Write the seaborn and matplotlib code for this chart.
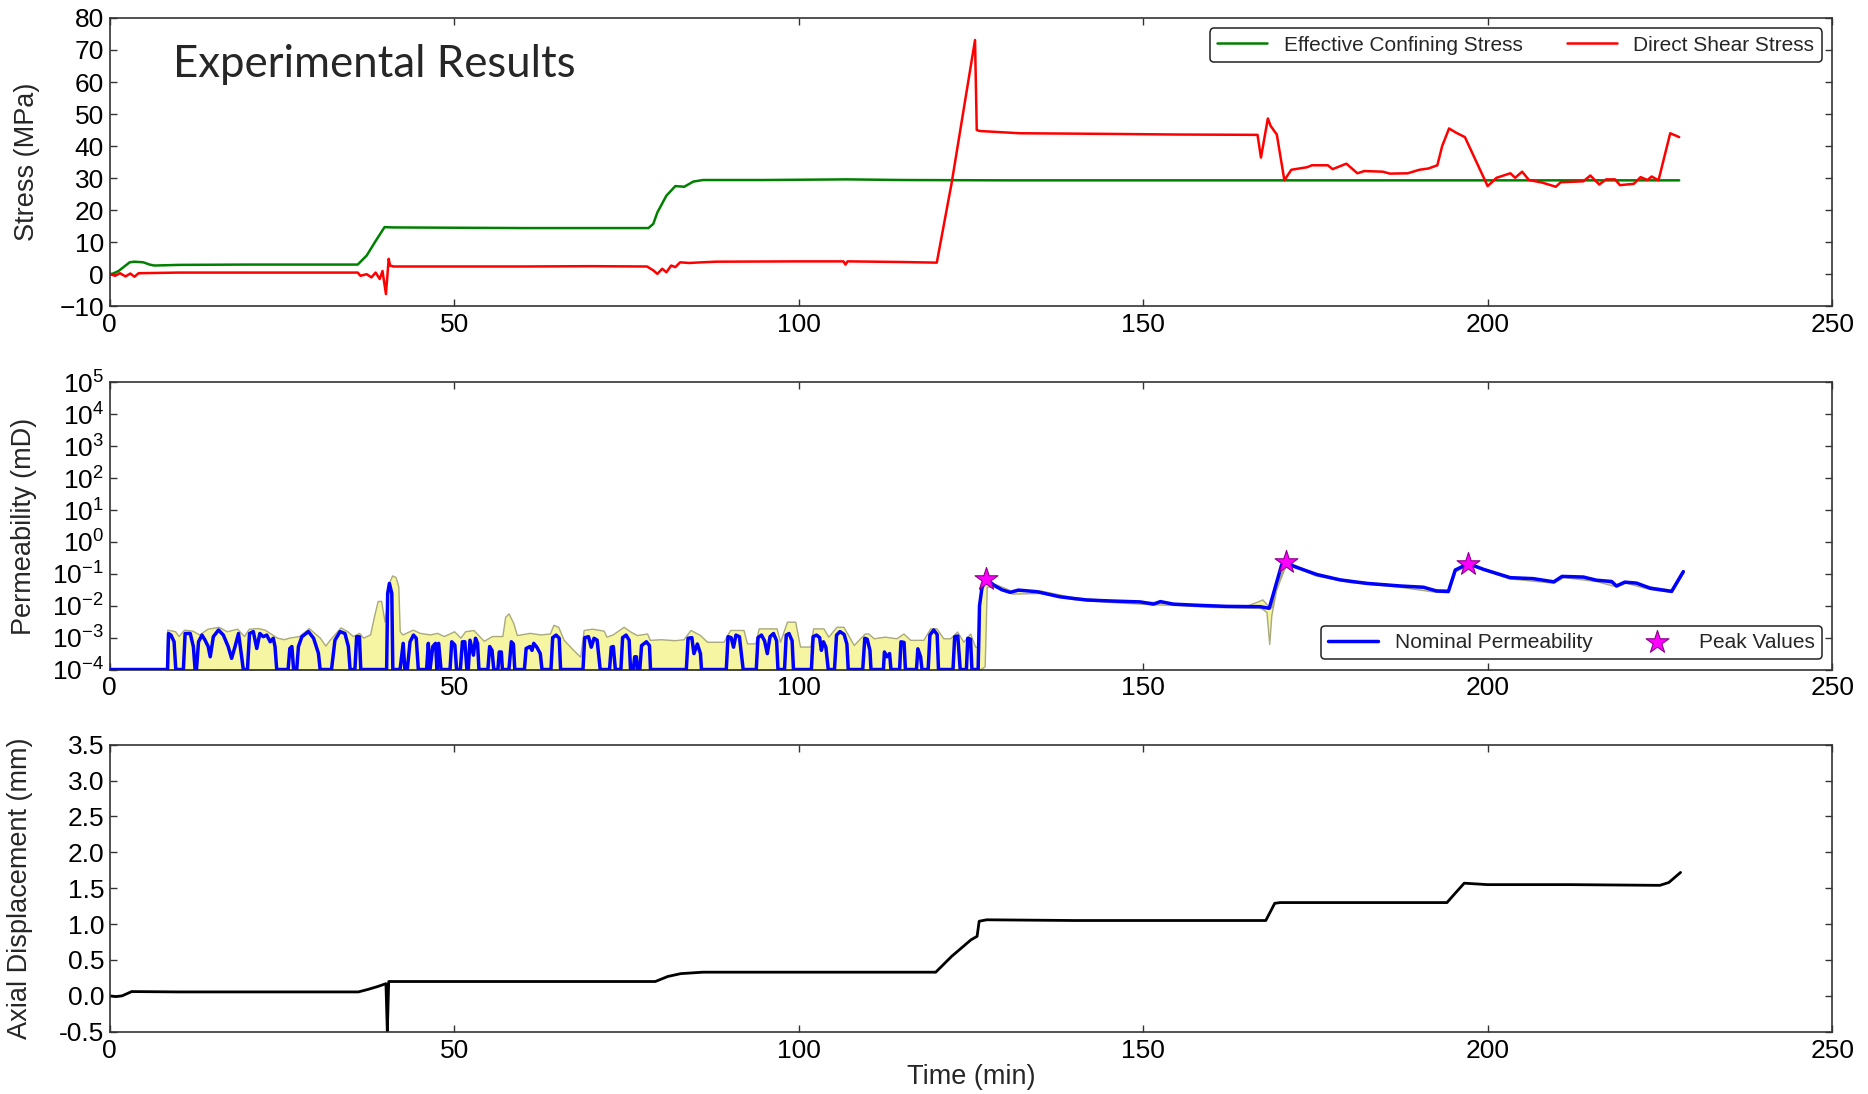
import numpy as np
import matplotlib
matplotlib.use("Agg")
import matplotlib.pyplot as plt
import seaborn as sns
from matplotlib.ticker import MultipleLocator, LogLocator, LogFormatterMathtext, NullLocator

# ---------------- stress record (MPa) ----------------
confining_time = [0, 0.5, 1.3, 2.9, 3.6, 4.9, 5.8, 6.5, 10, 20, 30, 36.0, 37.3, 38.5, 39.9,
                  41, 50, 60, 70, 78.2, 78.9, 79.5, 80.8, 82.1, 83.4, 84.7, 86.1, 95, 107,
                  115, 130, 150, 170, 190, 210, 227.8]
confining_stress = [0, 0.2, 1.0, 3.7, 3.9, 3.7, 3.0, 2.7, 2.9, 3.0, 3.0, 3.0, 5.8, 10, 14.7,
                    14.6, 14.5, 14.4, 14.4, 14.4, 15.7, 19.3, 24.5, 27.5, 27.3, 28.9, 29.4, 29.4,
                    29.6, 29.4, 29.3, 29.3, 29.3, 29.3, 29.3, 29.3]

shear_time = [0, 0.8, 1.5, 2.3, 3.0, 3.6, 4.2, 10, 20, 30, 36.0, 36.4, 37.3, 38.0, 38.6, 39.2,
              39.6, 40.1, 40.5, 40.7, 41.2, 50, 60, 70, 78.0, 78.9, 79.5, 80.2, 80.8, 81.5,
              82.1, 82.8, 84.1, 85.9, 88, 100, 106.5, 106.8, 107.1, 115, 120.05, 122.2, 125.6,
              125.85, 126.3, 132.1, 145, 155, 166.6, 167.1, 168.1, 168.5, 169.4, 170.5, 171.5,
              173.8, 174.5, 176.8, 177.5, 179.5, 181.1, 182.1, 184.8, 185.8, 188.4, 190.1,
              191.4, 192.7, 193.4, 194.4, 195.4, 196.7, 200.0, 201.3, 203.3, 204.0, 205.0,
              206.0, 207.9, 209.9, 210.6, 213.9, 214.9, 216.2, 217.2, 218.5, 219.2, 221.2,
              222.2, 223.2, 223.8, 224.8, 226.5, 227.8]
shear_stress = [0, -0.5, 0.3, -0.7, 0.2, -0.8, 0.3, 0.5, 0.5, 0.5, 0.5, -0.5, 0, -1.0, 0.5, -1.5,
                1.0, -6.2, 4.8, 2.7, 2.4, 2.4, 2.4, 2.5, 2.4, 1.2, 0.1, 1.7, 0.6, 2.7,
                2.2, 3.7, 3.5, 3.7, 3.9, 4.0, 4.0, 3.0, 4.0, 3.8, 3.6, 28.4, 73.1,
                45.0, 44.7, 44.0, 43.8, 43.6, 43.5, 36.4, 48.6, 46.3, 43.6, 29.3, 32.6,
                33.4, 34.0, 34.0, 32.8, 34.5, 31.5, 32.2, 32.0, 31.4, 31.5, 32.6,
                33.0, 34.0, 40.0, 45.5, 44.2, 42.8, 27.5, 30.1, 31.5, 30.1, 32.0,
                29.4, 28.6, 27.3, 28.7, 29.0, 30.8, 28.0, 29.6, 29.6, 27.8, 28.2,
                30.3, 29.4, 30.5, 29.3, 44.0, 42.8]

# ---------------- permeability record: (time min, log10 k [mD]) ----------------
perm_points = [
    (0, -4), (8.4, -4),
    (8.55, -2.87), (8.9, -2.92), (9.35, -3.13), (9.6, -4),
    (10.7, -4), (10.95, -2.87), (11.7, -2.87), (12.15, -3.28), (12.4, -4),
    (12.6, -4), (12.9, -3.13), (13.4, -2.92), (13.85, -3.08), (14.3, -3.28), (14.6, -3.6),
    (15.05, -2.97), (15.8, -2.76), (16.5, -2.92), (17.2, -3.28), (17.7, -3.65), (18.2, -3.28),
    (18.7, -2.87), (18.9, -3.18), (19.4, -4),
    (20.0, -4), (20.3, -2.87), (20.85, -2.81), (21.35, -3.34), (21.8, -2.87), (22.3, -2.97),
    (22.8, -2.92), (23.3, -3.13), (23.75, -3.02), (24.0, -3.28), (24.25, -4),
    (25.9, -4), (26.15, -3.34), (26.45, -3.28), (26.7, -4),
    (27.15, -4), (27.4, -3.28), (27.9, -2.97), (28.85, -2.81), (29.6, -3.02), (30.3, -3.49), (30.55, -4),
    (32.2, -4), (32.7, -3.08), (33.45, -2.81), (34.15, -2.87), (34.65, -3.28), (34.9, -4),
    (35.6, -4), (35.85, -2.97), (36.25, -2.97), (36.45, -4),
    (40.2, -4), (40.35, -1.61), (40.6, -1.30), (40.95, -1.61), (41.1, -4),
    (42.15, -4), (42.6, -3.18), (42.85, -4),
    (43.2, -4), (43.6, -3.13), (44.1, -2.92), (44.5, -3.02), (44.8, -4),
    (46.0, -4), (46.25, -3.18), (46.5, -4), (46.9, -3.28), (47.3, -3.18), (47.5, -4),
    (47.75, -3.18), (48.1, -4),
    (49.4, -4), (49.65, -3.13), (50.1, -3.23), (50.35, -4),
    (50.9, -4), (51.2, -3.13), (51.55, -3.13), (51.85, -4),
    (52.05, -4), (52.3, -3.08), (52.8, -3.55), (53.1, -3.02), (53.4, -3.18), (53.6, -4),
    (54.9, -4), (55.15, -3.28), (55.5, -3.4), (55.75, -4),
    (56.35, -4), (56.55, -3.45), (56.85, -3.45), (57.0, -4),
    (57.95, -4), (58.3, -3.13), (58.6, -3.2), (58.8, -4),
    (60.2, -4), (60.45, -3.34), (61.0, -3.28), (61.3, -3.4), (61.55, -3.18), (62.0, -3.3),
    (62.5, -3.5), (62.75, -4),
    (64.05, -4), (64.3, -3.0), (64.8, -2.92), (65.25, -3.02), (65.45, -4),
    (68.7, -4), (68.95, -3.0), (69.5, -2.97), (69.9, -3.3), (70.3, -3.02), (70.75, -3.08), (71.2, -4),
    (72.55, -4), (72.8, -3.3), (73.1, -3.28), (73.4, -4),
    (74.2, -4), (74.45, -3.0), (74.95, -2.92), (75.4, -3.08), (75.6, -4),
    (76.0, -4), (76.2, -3.6), (76.45, -3.6), (76.6, -4),
    (76.95, -4), (77.2, -3.25), (77.9, -3.13), (78.35, -3.25), (78.5, -4),
    (83.7, -4), (83.95, -3.02), (84.5, -3.0), (84.8, -3.5), (85.3, -3.2), (85.75, -3.5), (85.9, -4),
    (89.5, -4), (89.75, -2.97), (90.2, -3.0), (90.55, -3.3), (90.9, -2.92), (91.4, -2.97), (91.95, -4),
    (93.85, -4), (94.1, -3.0), (94.6, -2.92), (95.05, -3.1), (95.45, -3.5), (95.85, -2.97),
    (96.35, -2.87), (96.8, -3.1), (97.0, -4),
    (97.95, -4), (98.2, -2.92), (98.6, -2.87), (99.05, -3.1), (99.25, -4),
    (101.85, -4), (102.1, -2.97), (102.6, -2.92), (103.05, -3.0), (103.3, -3.4), (103.6, -3.13),
    (103.95, -3.3), (104.3, -4),
    (105.2, -4), (105.5, -2.92), (106.0, -2.81), (106.6, -2.9), (107.0, -3.2), (107.2, -4),
    (109.3, -4), (109.6, -3.02), (109.95, -3.05), (110.35, -3.4), (110.5, -4),
    (112.3, -4), (112.45, -3.45), (112.8, -3.6), (113.2, -3.5), (113.4, -4),
    (114.65, -4), (114.85, -3.13), (115.3, -3.15), (115.5, -4),
    (117.1, -4), (117.3, -3.35), (117.7, -3.6), (117.9, -4),
    (118.8, -4), (119.05, -2.92), (119.6, -2.76), (120.1, -2.9), (120.3, -4),
    (122.4, -4), (122.65, -2.97), (123.1, -2.95), (123.45, -4),
    (124.35, -4), (124.55, -3.02), (124.95, -3.05), (125.15, -4),
    (126.05, -4), (126.25, -2.0), (126.6, -1.45), (127.2, -1.16),
    (128.3, -1.35), (129.5, -1.5), (130.7, -1.58), (131.9, -1.51), (134.6, -1.56), (137.9, -1.72),
    (141.8, -1.82), (145.2, -1.85), (149.6, -1.88), (151.5, -1.95), (152.5, -1.87), (154.4, -1.95),
    (157.3, -1.98), (162.1, -2.02), (167.0, -2.03), (168.3, -2.08), (170.1, -0.72), (170.8, -0.63),
    (171.8, -0.76), (175.2, -1.02), (178.6, -1.19), (182.5, -1.30), (187.3, -1.38), (190.7, -1.42),
    (192.6, -1.54), (194.3, -1.55), (195.3, -0.88), (197.2, -0.68), (199.4, -0.86), (203.3, -1.12),
    (206.6, -1.15), (209.6, -1.25), (210.8, -1.08), (213.9, -1.10), (215.8, -1.20), (218.0, -1.24),
    (218.7, -1.38), (219.9, -1.26), (221.6, -1.29), (223.6, -1.45), (226.7, -1.55), (228.4, -0.93),
]

# upper edge of the measurement band during the low-flow stage (lower edge = 1e-4)
band_low_stage = [
    (8.2, -4), (8.35, -2.75), (9.5, -2.8), (10.0, -2.95), (10.8, -2.75), (12.0, -2.78),
    (13.0, -2.9), (14.2, -2.72), (15.8, -2.66), (17.0, -2.8), (18.5, -2.72), (19.5, -2.95),
    (20.2, -2.72), (21.5, -2.7), (22.5, -2.75), (24.3, -3.0), (25.3, -3.05), (26.0, -3.0),
    (27.5, -2.95), (28.9, -2.7), (30.5, -3.0), (31.3, -3.25), (32.0, -3.05), (33.5, -2.68),
    (34.5, -2.8), (35.3, -2.95), (36.2, -2.85), (36.8, -3.0), (37.8, -2.9), (38.4, -2.3),
    (38.9, -1.85), (39.4, -1.85), (39.9, -2.5), (40.2, -2.0), (40.6, -1.25), (41.0, -1.05),
    (41.5, -1.1), (41.9, -1.4), (42.1, -2.8), (42.5, -2.9), (44.0, -2.75), (45.0, -2.85),
    (46.5, -2.9), (47.5, -2.85), (48.5, -2.95), (50.0, -2.8), (50.9, -3.0), (51.6, -2.8),
    (52.8, -2.76), (54.3, -3.1), (55.5, -2.95), (57.0, -2.95), (57.4, -2.35), (57.9, -2.24),
    (58.6, -2.55), (59.1, -2.92), (61.0, -2.85), (62.5, -2.9), (63.9, -2.87), (64.4, -2.6),
    (65.1, -2.66), (65.9, -3.07), (67.3, -3.39), (68.3, -3.6), (68.8, -2.76), (70.0, -2.72),
    (71.7, -2.78), (72.1, -2.97), (73.0, -2.9), (74.6, -2.66), (75.5, -2.8), (76.5, -2.92),
    (78.0, -2.87), (78.4, -3.07), (80.0, -3.05), (82.0, -3.08), (83.3, -3.05), (84.3, -2.76),
    (85.7, -2.92), (86.7, -3.13), (89.1, -3.13), (90.05, -2.76), (92.0, -2.76), (92.5, -3.18),
    (93.7, -3.18), (94.2, -2.71), (96.8, -2.71), (97.3, -3.13), (98.3, -2.5), (99.5, -2.5),
    (100.2, -3.28), (101.7, -3.28), (102.1, -2.71), (103.6, -2.71), (104.3, -2.97),
    (105.5, -2.66), (106.5, -2.66), (108.0, -3.23), (109.6, -2.87), (110.1, -2.87),
    (110.9, -3.02), (112.5, -2.97), (114.2, -3.02), (115.2, -2.87), (116.2, -3.07),
    (118.1, -3.07), (119.1, -2.71), (120.0, -2.71), (121.0, -3.02), (122.0, -3.02),
    (123.0, -2.81), (123.9, -3.13), (124.9, -2.87), (125.6, -3.28), (125.9, -3.3), (126.0, -4),
]

# measurement band after breakthrough: (time, lower log10, upper log10)
band_flow_stage = [
    (126.1, -4, -4), (126.3, -4, -1.7), (127.0, -3.9, -1.2), (127.3, -1.4, -1.12),
    (128.3, -1.4, -1.3), (131.0, -1.62, -1.54), (135.0, -1.6, -1.52), (140.0, -1.8, -1.74),
    (145.0, -1.88, -1.82), (150.0, -1.94, -1.86), (155.0, -1.98, -1.93), (160.0, -2.04, -1.98),
    (165.0, -2.06, -2.0), (166.8, -2.06, -1.85), (167.3, -2.1, -1.8), (167.9, -2.2, -1.95),
    (168.3, -3.2, -2.05), (168.6, -2.3, -2.05), (169.3, -1.5, -1.35), (170.8, -0.66, -0.6),
    (175.0, -1.05, -1.0), (180.0, -1.26, -1.21), (187.0, -1.4, -1.35), (192.0, -1.55, -1.47),
    (194.3, -1.58, -1.5), (195.3, -0.92, -0.85), (197.2, -0.71, -0.66), (203.0, -1.14, -1.09),
    (209.6, -1.28, -1.22), (211.0, -1.1, -1.06), (215.8, -1.23, -1.17), (218.7, -1.4, -1.33),
    (220.0, -1.28, -1.22), (223.6, -1.48, -1.4), (226.7, -1.57, -1.5), (228.4, -0.96, -0.9),
]

peak_time = [127.2, 170.8, 197.2]
peak_log10 = [-1.16, -0.63, -0.68]

# ---------------- axial displacement (mm) ----------------
disp_time = [0, 0.9, 1.8, 3.2, 10, 20, 30, 36.1, 37.5, 38.9, 40.1, 40.3, 40.5, 50, 60, 70,
             79.2, 81.0, 82.9, 86.1, 95, 105, 115, 119.9, 122.2, 125.0, 125.9, 126.2, 127.3,
             140, 155, 167.8, 169.1, 169.9, 180, 194.1, 195.2, 196.6, 198.3, 200, 212, 225,
             226.3, 228.0]
disp_mm = [0.0, -0.01, 0.0, 0.06, 0.055, 0.055, 0.055, 0.055, 0.09, 0.13, 0.17, -0.5, 0.2,
           0.2, 0.2, 0.2, 0.2, 0.27, 0.31, 0.33, 0.33, 0.33, 0.33, 0.33, 0.55, 0.78, 0.83,
           1.04, 1.06, 1.05, 1.05, 1.05, 1.29, 1.30, 1.30, 1.30, 1.42, 1.57, 1.56, 1.55,
           1.55, 1.54, 1.58, 1.72]

time_ticks = [0, 50, 100, 150, 200, 250]

# ---------------- style ----------------
sns.set_style("ticks")
plt.rcParams.update({
    "font.family": ["Liberation Sans", "DejaVu Sans"],
    "mathtext.fontset": "custom",
    "mathtext.rm": "Liberation Sans",
    "mathtext.it": "Liberation Sans:italic",
    "mathtext.bf": "Liberation Sans:bold",
    "axes.edgecolor": "#333333",
    "axes.linewidth": 1.2,
    "axes.unicode_minus": True,
    "xtick.direction": "in",
    "ytick.direction": "in",
    "xtick.top": True,
    "ytick.right": True,
    "xtick.color": "#333333",
    "ytick.color": "#333333",
    "xtick.labelcolor": "black",
    "ytick.labelcolor": "black",
})

TICK_FS = 19
LABEL_FS = 19.5
LEG_FS = 15

fig = plt.figure(figsize=(18.68, 10.94), dpi=100)
ax1 = fig.add_axes([0.0587, 0.7201, 0.9221, 0.2635])
ax2 = fig.add_axes([0.0587, 0.3880, 0.9221, 0.2624])
ax3 = fig.add_axes([0.0587, 0.0569, 0.9221, 0.2624])


def style_axis(ax):
    ax.set_xlim(0, 250)
    ax.set_xticks(time_ticks)
    ax.tick_params(axis="both", which="major", length=5, width=1, labelsize=TICK_FS)
    ax.tick_params(axis="x", pad=5)
    ax.tick_params(axis="y", pad=4)
    for s in ax.spines.values():
        s.set_visible(True)
        s.set_color("#333333")
        s.set_linewidth(1.2)


# ---- stress panel ----
sns.lineplot(x=confining_time, y=confining_stress, ax=ax1, color="#008000", lw=1.8,
             estimator=None, sort=False, label="Effective Confining Stress")
sns.lineplot(x=shear_time, y=shear_stress, ax=ax1, color="#ff0000", lw=1.8,
             estimator=None, sort=False, label="Direct Shear Stress")
style_axis(ax1)
ax1.set_ylim(-10, 80)
ax1.yaxis.set_major_locator(MultipleLocator(10))
ax1.set_ylabel("Stress (MPa)", fontsize=LABEL_FS, va="center")
ax1.yaxis.set_label_coords(-0.048, 0.5)
ax1.set_xlabel("")
h, l = ax1.get_legend_handles_labels()
leg1 = ax1.legend(h, l, loc="upper right", ncol=2, fontsize=LEG_FS, frameon=True,
                  fancybox=True, framealpha=1, edgecolor="#222222", columnspacing=2.1,
                  handlelength=2.4, borderaxespad=0.5, handletextpad=0.8,
                  borderpad=0.35)
leg1.get_frame().set_linewidth(1.1)
ax1.text(0.0368, 0.795, "Experimental Results", transform=ax1.transAxes,
         fontsize=31.5, family=["Lato", "DejaVu Sans"], ha="left", va="baseline")

# ---- permeability panel ----
floor = 1e-4
bt, bu = zip(*band_low_stage)
ax2.fill_between(bt, floor, 10 ** np.array(bu), facecolor="#f6f6a2",
                 edgecolor="#a9a97c", lw=1.0, zorder=1)
ft, flo, fhi = zip(*band_flow_stage)
ax2.fill_between(ft, 10 ** np.array(flo), 10 ** np.array(fhi), facecolor="#f6f6a2",
                 edgecolor="#a9a97c", lw=1.0, zorder=1)
pt, plog = zip(*perm_points)
sns.lineplot(x=list(pt), y=list(10 ** np.array(plog)), ax=ax2, color="#0000ff", lw=2.5,
             estimator=None, sort=False, label="Nominal Permeability", zorder=3)
sns.scatterplot(x=peak_time, y=list(10 ** np.array(peak_log10)), ax=ax2, marker="*",
                s=300, color="#ff00ff", edgecolor="#8b008b", linewidth=0.8,
                label="Peak Values", zorder=5)
ax2.set_yscale("log")
style_axis(ax2)
ax2.set_ylim(1e-4, 1e5)
ax2.yaxis.set_major_locator(LogLocator(base=10, numticks=20))
ax2.yaxis.set_major_formatter(LogFormatterMathtext())
ax2.yaxis.set_minor_locator(NullLocator())
ax2.set_ylabel("Permeability (mD)", fontsize=LABEL_FS, va="center")
ax2.yaxis.set_label_coords(-0.0495, 0.5)
ax2.set_xlabel("")
h, l = ax2.get_legend_handles_labels()
leg2 = ax2.legend(h, l, loc="lower right", ncol=2, fontsize=LEG_FS, frameon=True,
                  fancybox=True, framealpha=1, edgecolor="#222222", columnspacing=1.9,
                  handlelength=2.4, borderaxespad=0.5, handletextpad=0.8, scatterpoints=1,
                  borderpad=0.35)
leg2.get_frame().set_linewidth(1.1)

# ---- displacement panel ----
sns.lineplot(x=disp_time, y=disp_mm, ax=ax3, color="black", lw=2.0,
             estimator=None, sort=False)
style_axis(ax3)
ax3.set_ylim(-0.5, 3.5)
ax3.yaxis.set_major_locator(MultipleLocator(0.5))
ax3.yaxis.set_major_formatter(matplotlib.ticker.FormatStrFormatter("%.1f"))
ax3.set_ylabel("Axial Displacement (mm)", fontsize=LABEL_FS, va="center")
ax3.yaxis.set_label_coords(-0.052, 0.5)
ax3.set_xlabel("Time (min)", fontsize=LABEL_FS, va="top")
ax3.xaxis.set_label_coords(0.5, -0.112)

fig.savefig("out.png", dpi=100)
